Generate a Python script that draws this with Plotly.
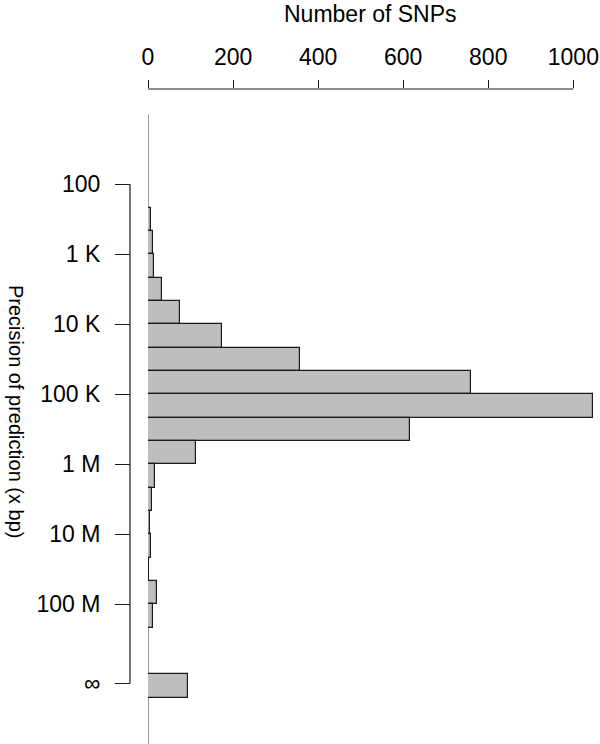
import plotly.graph_objects as go

# Histogram bins: lower edge of each bin in log10(bp), bin width = 1/3 decade
bin_start_log10 = [1.000, 1.333, 1.667, 2.000, 2.333, 2.667, 3.000, 3.333, 3.667,
                   4.000, 4.333, 4.667, 5.000, 5.333, 5.667, 6.000, 6.333, 6.667,
                   7.000, 7.333, 7.667, 8.000, 8.333, 8.667, 9.000]
snp_counts = [0, 1, 1, 0, 8, 12, 13, 34, 75,
              173, 357, 759, 1047, 615, 113, 17, 10, 5,
              6, 3, 22, 12, 0, 0, 93]
bin_width = 1 / 3

x_tick_vals = [0, 200, 400, 600, 800, 1000]
y_tick_vals = [2, 3, 4, 5, 6, 7, 8, 9.13]
y_tick_text = ["100", "1 K", "10 K", "100 K", "1 M", "10 M", "100 M", "∞"]

FONT = "Liberation Sans, Arial, Helvetica, sans-serif"
centers = [s + bin_width / 2 for s in bin_start_log10]

fig = go.Figure()
fig.add_trace(go.Bar(
    x=snp_counts, y=centers, orientation="h", width=bin_width,
    marker=dict(color="#bebebe", line=dict(color="#1a1a1a", width=1.2)),
    hoverinfo="x+y",
))

shapes = [
    # zero-baseline of the bars
    dict(type="line", xref="x", yref="y", x0=0, x1=0,
         y0=bin_start_log10[0], y1=10.2, line=dict(color="#7a7a7a", width=1.5), layer="below"),
    # left (R-style) axis line
    dict(type="line", xref="paper", yref="y", x0=0, x1=0,
         y0=y_tick_vals[0], y1=y_tick_vals[-1], line=dict(color="#1a1a1a", width=1.2)),
    # top axis line
    dict(type="line", xref="x", yref="paper", x0=x_tick_vals[0], x1=x_tick_vals[-1],
         y0=1, y1=1, line=dict(color="#1a1a1a", width=1.2)),
]

fig.update_layout(
    width=600, height=744,
    margin=dict(l=130, r=2, t=89, b=0, autoexpand=False),
    paper_bgcolor="white", plot_bgcolor="white",
    showlegend=False, bargap=0,
    font=dict(family=FONT, size=23, color="black"),
    shapes=shapes,
    xaxis=dict(
        domain=[18 / 468, 1], range=[0, 1058], side="top", automargin=False,
        tickvals=x_tick_vals, ticks="outside", ticklen=8, tickwidth=1.2,
        tickcolor="#1a1a1a", showline=False, showgrid=False, zeroline=False,
        ticklabelstandoff=6,
        tickfont=dict(family=FONT, size=23, color="black"),
    ),
    yaxis=dict(
        range=[9.996, 0.639], anchor="free", position=0, automargin=False,
        tickvals=y_tick_vals, ticktext=y_tick_text,
        ticks="outside", ticklen=15, tickwidth=1.2, tickcolor="#1a1a1a",
        showline=False, showgrid=False, zeroline=False,
        ticklabelstandoff=10,
        tickfont=dict(family=FONT, size=23, color="black"),
    ),
    annotations=[
        dict(text="Number of SNPs", xref="paper", yref="paper",
             x=(370 - 130) / 468, y=(744 - 14) / 655,
             xanchor="center", yanchor="middle", showarrow=False,
             font=dict(family=FONT, size=23, color="black")),
        dict(text="Precision of prediction (x bp)", xref="paper", yref="paper",
             x=(16 - 130) / 468, y=(744 - 411) / 655, textangle=90,
             xanchor="center", yanchor="middle", showarrow=False,
             font=dict(family=FONT, size=20, color="black")),
    ],
)

fig.write_html(
    "out.html",
    config={"displayModeBar": False},
    post_script="document.body.style.margin='0px';document.body.style.padding='0px';"
                "document.body.style.overflow='hidden';",
)
